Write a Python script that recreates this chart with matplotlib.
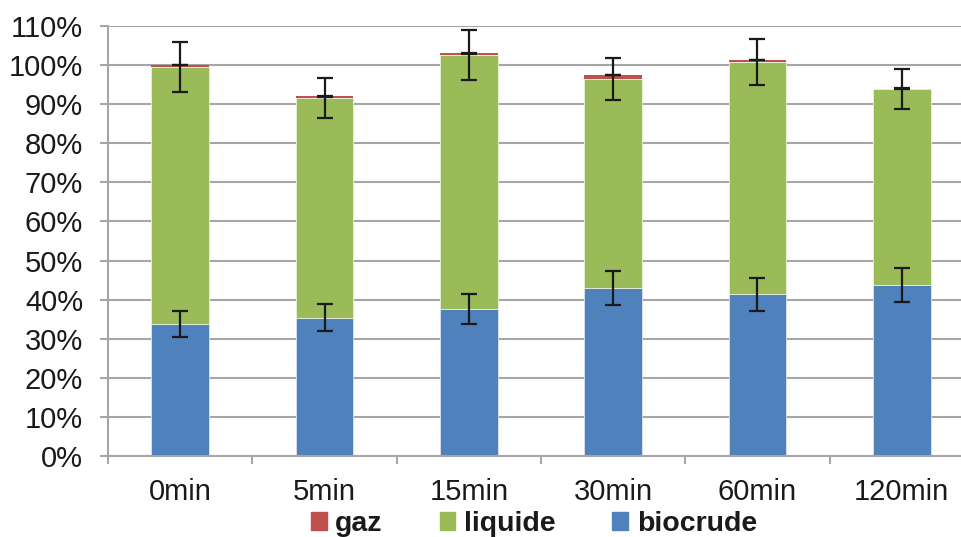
import numpy as np
import matplotlib.pyplot as plt
from matplotlib.patches import Patch
from matplotlib.ticker import FixedLocator, FuncFormatter

plt.rcParams["font.family"] = ["Liberation Sans", "DejaVu Sans"]

# ---------------- Data (%) ----------------
categories = ["0min", "5min", "15min", "30min", "60min", "120min"]
biocrude = [33.8, 35.4, 37.6, 43.0, 41.4, 43.7]
liquide = [65.7, 56.1, 65.1, 53.4, 59.4, 50.1]
gaz = [0.5, 0.5, 0.3, 1.0, 0.5, 0.2]

err_biocrude = [3.4, 3.5, 3.75, 4.4, 4.2, 4.35]
err_liquide = [6.5, 5.1, 6.4, 5.3, 6.0, 5.1]
err_gaz = [0.05, 0.05, 0.05, 0.05, 0.05, 0.05]

C_BIO = "#4F81BD"
C_LIQ = "#9BBB59"
C_GAZ = "#C0504D"
GRID = "#A6A6A6"
FS = 21

# ---------------- Plot ----------------
fig = plt.figure(figsize=(9.62, 5.37), dpi=100)
ax = fig.add_axes([108 / 962, 1 - 456 / 537, 866 / 962, 430 / 537])

x = np.arange(len(categories))
w = 0.40
bio = np.array(biocrude)
liq = np.array(liquide)
gz = np.array(gaz)

ax.bar(x, bio, w, color=C_BIO, edgecolor="#DCE6F2", linewidth=0.6, zorder=2)
ax.bar(x, liq, w, bottom=bio, color=C_LIQ, edgecolor="#EBF1DE", linewidth=0.6, zorder=2)
ax.bar(x, gz, w, bottom=bio + liq, color=C_GAZ, linewidth=0, zorder=2)

ekw = dict(fmt="none", ecolor="#1a1a1a", elinewidth=1.6, capsize=5.5, capthick=1.6, zorder=3)
ax.errorbar(x, bio, yerr=err_biocrude, **ekw)
ax.errorbar(x, bio + liq, yerr=err_liquide, **ekw)
ax.errorbar(x, bio + liq + gz, yerr=err_gaz, **ekw)

ax.set_xlim(-0.5, len(categories) - 0.5)
ax.set_ylim(0, 110)
ax.yaxis.set_major_locator(FixedLocator(np.arange(0, 111, 10)))
ax.yaxis.set_major_formatter(FuncFormatter(lambda v, p: f"{int(round(v))}%"))
ax.grid(axis="y", color=GRID, linewidth=1.5, zorder=0)
ax.set_axisbelow(True)

ax.set_xticks(x)
ax.set_xticklabels(categories)
ax.set_xticks(np.arange(-0.5, len(categories), 1), minor=True)
ax.tick_params(axis="x", which="major", length=0, pad=16, labelsize=FS, colors="#1a1a1a")
ax.tick_params(axis="x", which="minor", length=6, width=1.5, color=GRID)
ax.tick_params(axis="y", length=6, width=1.5, color=GRID, pad=12, labelsize=FS, labelcolor="#1a1a1a")

for s in ["top", "right"]:
    ax.spines[s].set_visible(False)
for s in ["left", "bottom"]:
    ax.spines[s].set_color(GRID)
    ax.spines[s].set_linewidth(1.5)

handles = [Patch(color=C_GAZ, label="gaz"),
           Patch(color=C_LIQ, label="liquide"),
           Patch(color=C_BIO, label="biocrude")]
leg = fig.legend(handles=handles, loc="center", bbox_to_anchor=(534 / 962, 13 / 537),
                 ncol=3, frameon=False, handlelength=0.55, handleheight=0.55,
                 handletextpad=0.3, columnspacing=2.0,
                 prop={"weight": "bold", "size": 20.5})
for t in leg.get_texts():
    t.set_color("#1a1a1a")

fig.savefig("out.png", dpi=100)
